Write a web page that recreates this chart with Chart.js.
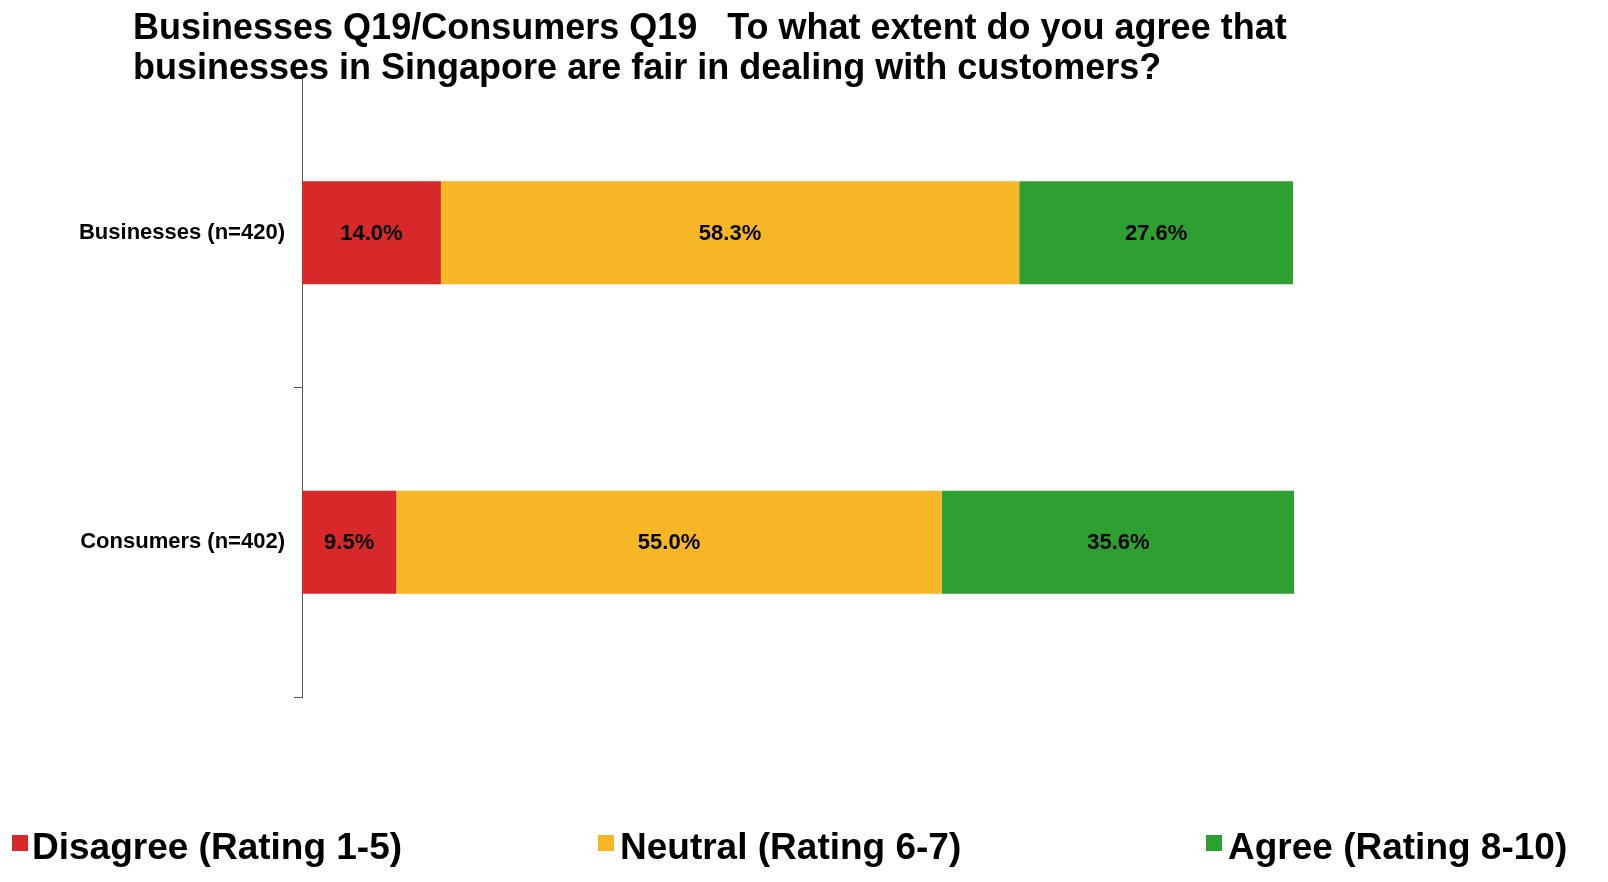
<!DOCTYPE html>
<html><head><meta charset="utf-8">
<script src="https://cdn.jsdelivr.net/npm/chart.js@4/dist/chart.umd.min.js"></script>
<style>html,body{margin:0;padding:0;background:#fff;} #wrap{width:1608px;height:882px;position:relative}</style>
</head><body><div id="wrap"><canvas id="c" width="1608" height="882"></canvas></div>
<script>
const categories = ['Businesses (n=420)', 'Consumers (n=402)'];
const seriesNames = ['Disagree (Rating 1-5)', 'Neutral (Rating 6-7)', 'Agree (Rating 8-10)'];
const disagree = [14.0, 9.5];
const neutral = [58.3, 55.0];
const agree = [27.6, 35.6];
const titleLines = ['Businesses Q19/Consumers Q19   To what extent do you agree that',
                    'businesses in Singapore are fair in dealing with customers?'];
const colors = ['#D7282A', '#F6B625', '#2E9F31'];

const FONT = '"Liberation Sans", Arial, sans-serif';

const titlePlugin = {
  id: 'titleText',
  afterDraw(chart) {
    const ctx = chart.ctx;
    ctx.save();
    ctx.fillStyle = '#000';
    ctx.font = 'bold 36px ' + FONT;
    ctx.textBaseline = 'alphabetic';
    ctx.textAlign = 'left';
    ctx.fillText(titleLines[0], 133, 39);
    ctx.fillText(titleLines[1], 133, 79);
    ctx.restore();
  }
};

const valueLabels = {
  id: 'valueLabels',
  afterDatasetsDraw(chart) {
    const ctx = chart.ctx;
    ctx.save();
    ctx.fillStyle = '#000';
    ctx.font = 'bold 22px ' + FONT;
    ctx.textAlign = 'center';
    ctx.textBaseline = 'middle';
    chart.data.datasets.forEach((ds, i) => {
      const meta = chart.getDatasetMeta(i);
      meta.data.forEach((el, j) => {
        const x = (el.x + el.base) / 2;
        ctx.fillText(ds.data[j].toFixed(1) + '%', x, el.y + 1);
      });
    });
    ctx.restore();
  }
};

const legendPlugin = {
  id: 'bottomLegend',
  afterDraw(chart) {
    const ctx = chart.ctx;
    const boxX = [12, 598, 1206];
    const textX = [32, 620, 1228];
    ctx.save();
    ctx.font = 'bold 37px ' + FONT;
    ctx.textBaseline = 'alphabetic';
    ctx.textAlign = 'left';
    chart.data.datasets.forEach((ds, i) => {
      ctx.fillStyle = ds.backgroundColor;
      ctx.fillRect(boxX[i], 835, 16, 16);
      ctx.fillStyle = '#000';
      ctx.fillText(ds.label, textX[i], 859);
    });
    ctx.restore();
  }
};

new Chart(document.getElementById('c'), {
  type: 'bar',
  data: {
    labels: categories,
    datasets: [
      { label: seriesNames[0], data: disagree, backgroundColor: colors[0] },
      { label: seriesNames[1], data: neutral, backgroundColor: colors[1] },
      { label: seriesNames[2], data: agree, backgroundColor: colors[2] }
    ]
  },
  options: {
    indexAxis: 'y',
    responsive: false,
    animation: false,
    devicePixelRatio: 1,
    layout: { padding: { top: 78, bottom: 185, right: 314, left: 0 } },
    datasets: { bar: { barPercentage: 0.333, categoryPercentage: 1.0, borderWidth: 0 } },
    plugins: { legend: { display: false }, title: { display: false }, tooltip: { enabled: false } },
    scales: {
      x: { stacked: true, min: 0, max: 100, display: false },
      y: {
        stacked: true,
        afterFit(scale) { scale.width = 302; },
        grid: { drawOnChartArea: false, drawTicks: true, tickLength: 8, offset: true, color: '#555' },
        border: { display: true, color: '#555', width: 1 },
        ticks: { color: '#000', padding: 9, font: { family: FONT, size: 22, weight: 'bold' } }
      }
    }
  },
  plugins: [titlePlugin, valueLabels, legendPlugin]
});
</script>
</body></html>
